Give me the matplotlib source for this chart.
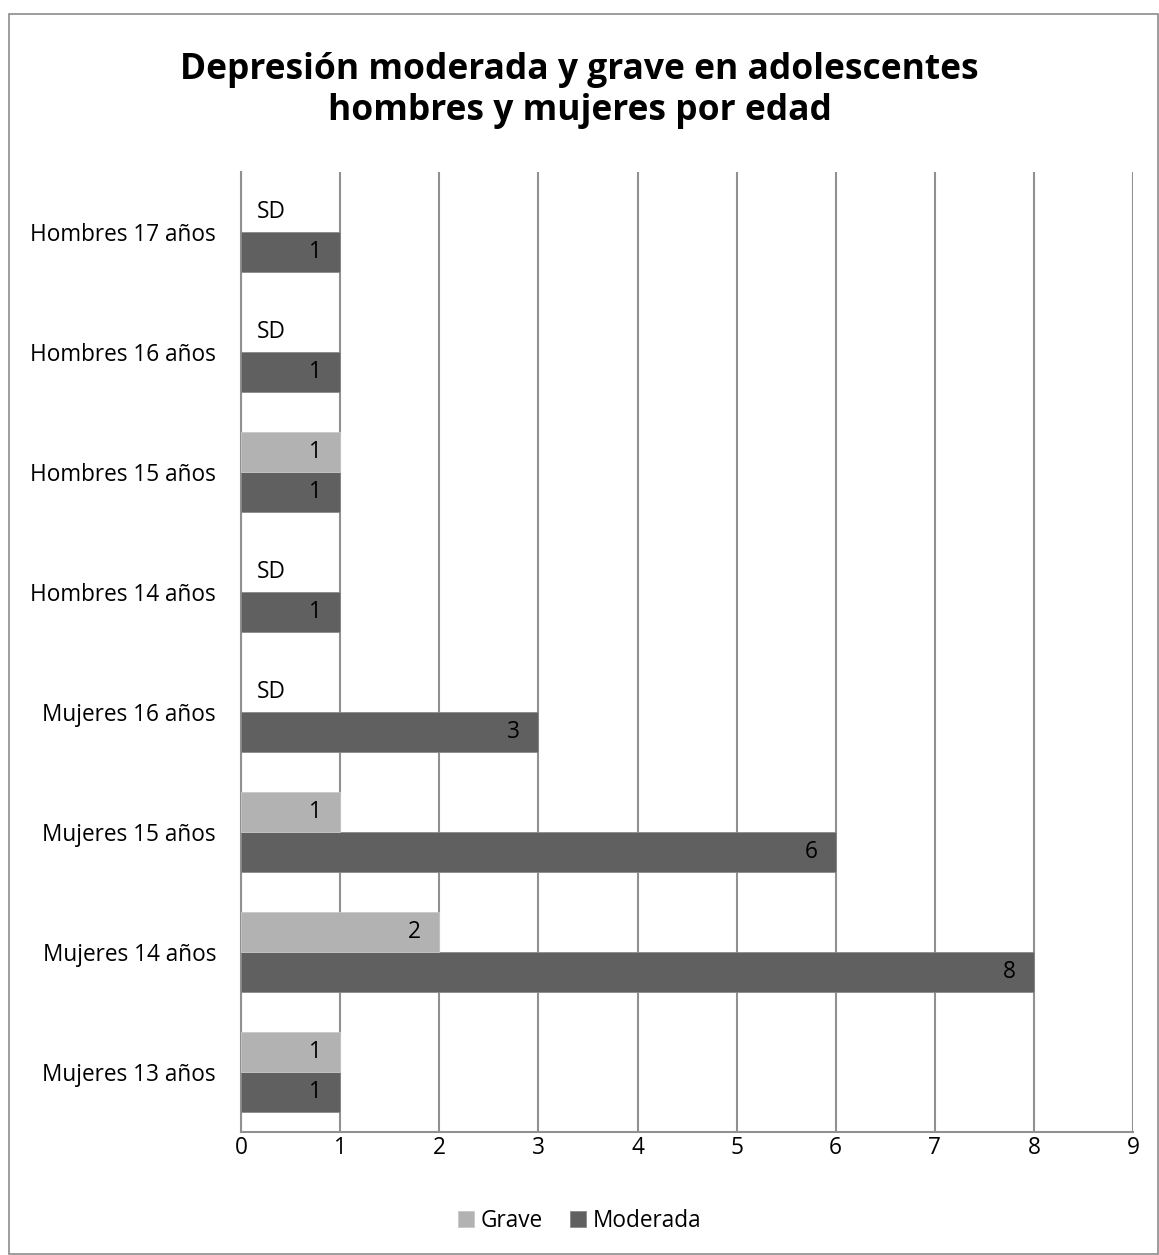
import numpy as np
import matplotlib.pyplot as plt
from matplotlib.patches import Rectangle

plt.rcParams['font.family'] = ['Open Sans', 'DejaVu Sans']

categories = ['Mujeres 13 años', 'Mujeres 14 años', 'Mujeres 15 años', 'Mujeres 16 años',
              'Hombres 14 años', 'Hombres 15 años', 'Hombres 16 años', 'Hombres 17 años']
# None = sin dato (SD)
grave = [1, 2, 1, None, None, 1, None, None]
moderada = [1, 8, 6, 3, 1, 1, 1, 1]
x_ticks = list(range(0, 10))

col_grave = '#b2b2b2'
col_mod = '#606060'
grid_col = '#909090'
fs = 16.3

fig = plt.figure(figsize=(11.59, 12.55), dpi=100)
ax = fig.add_axes([0.208, 0.098, 0.7696, 0.765])

# marco exterior del gráfico
fig.patches.append(Rectangle((9 / 1159, 0.001), 1 - 9 / 1159 - 0.001, 1 - 14 / 1255 - 0.001,
                             transform=fig.transFigure, fill=False, edgecolor='#8c8c8c', lw=1.2))

y = np.arange(len(categories))
h = 1 / 3.0
g_vals = [v if v is not None else 0 for v in grave]
g_edges = ['#c8c8c8' if v is not None else 'none' for v in grave]

ax.barh(y - h / 2, moderada, height=h, color=col_mod, edgecolor='#8a8a8a', lw=0.6, zorder=3, label='Moderada')
ax.barh(y + h / 2, g_vals, height=h, color=col_grave, edgecolor=g_edges, lw=0.6, zorder=3, label='Grave')

for i in range(len(categories)):
    ax.annotate(str(moderada[i]), (moderada[i], y[i] - h / 2), xytext=(-13, 0),
                textcoords='offset points', ha='right', va='center', fontsize=fs, zorder=4)
    if grave[i] is None:
        ax.annotate('SD', (0, y[i] + h / 2), xytext=(11, 0),
                    textcoords='offset points', ha='left', va='center', fontsize=fs, zorder=4)
    else:
        ax.annotate(str(grave[i]), (grave[i], y[i] + h / 2), xytext=(-13, 0),
                    textcoords='offset points', ha='right', va='center', fontsize=fs, zorder=4)

ax.set_xlim(0, 9)
ax.set_ylim(-0.5, len(categories) - 0.5)
ax.set_xticks(x_ticks)
ax.set_yticks(y)
ax.set_yticklabels(categories)
ax.tick_params(axis='both', length=0, labelsize=fs)
ax.tick_params(axis='x', pad=3)
ax.tick_params(axis='y', pad=18)
ax.xaxis.grid(True, color=grid_col, lw=1.5, zorder=0)
for s in ['top', 'right']:
    ax.spines[s].set_visible(False)
for s in ['left', 'bottom']:
    ax.spines[s].set_color(grid_col)
    ax.spines[s].set_linewidth(1.5)

fig.text(0.5, 0.928, 'Depresión moderada y grave en adolescentes\nhombres y mujeres por edad',
         ha='center', va='center', fontsize=25.5, fontweight='bold', linespacing=1.2)

handles, labels = ax.get_legend_handles_labels()
fig.legend(handles[::-1], labels[::-1], loc='center', bbox_to_anchor=(0.5, 0.027), ncol=2,
           frameon=False, fontsize=fs, handlelength=0.7, handleheight=0.7,
           handletextpad=0.3, columnspacing=1.2)

fig.savefig('out.png', dpi=100)
